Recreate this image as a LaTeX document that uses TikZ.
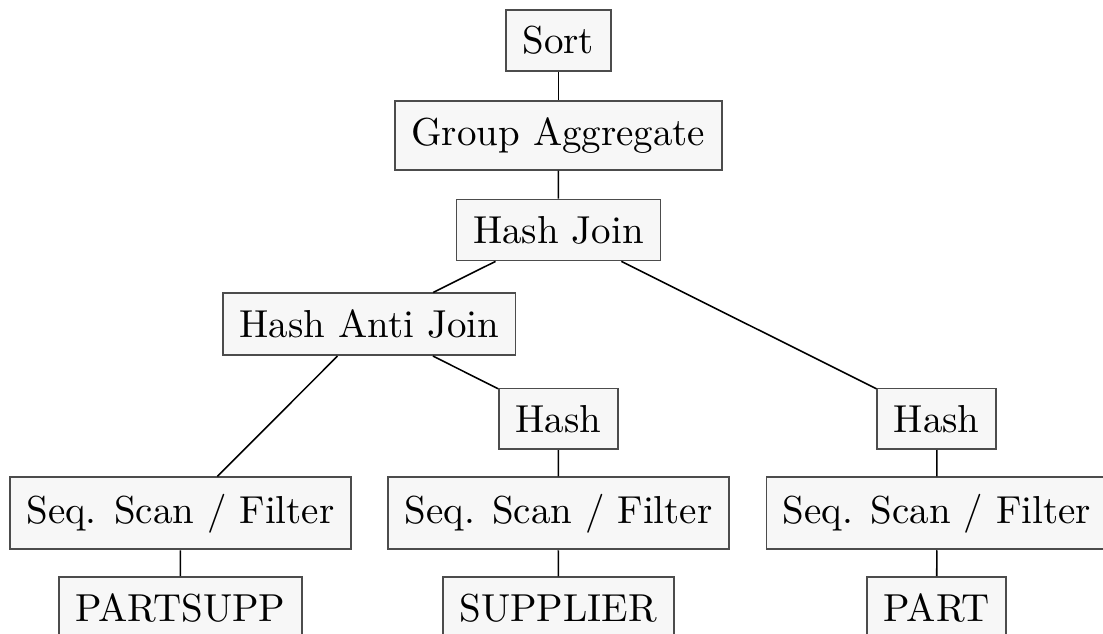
\documentclass[tikz,border=0pt]{standalone}
\usepackage{tikz}
\begin{document}
\begin{tikzpicture}[x=0.2566pt,y=-0.2566pt,
  op/.style={draw=black!70, fill=black!3, line width=0.45pt, inner sep=4.25pt, font=\normalsize},
  link/.style={draw=black, line width=0.4pt}]
  \useasboundingbox (0,0) rectangle (1103,633);
  % operator nodes of the query plan
  \node[op] (sort) at (558.3,40.5) {Sort};
  \node[op] (agg)  at (558.3,135.2) {Group Aggregate};
  \node[op] (hj)   at (558.5,230) {Hash Join};
  \node[op] (haj)  at (369.3,324.2) {Hash Anti Join};
  \node[op] (hmid) at (558.3,418.8) {Hash};
  \node[op] (hrgt) at (936.7,418.8) {Hash};
  \node[op] (sl)   at (180.5,513.3) {Seq. Scan / Filter};
  \node[op] (sm)   at (558.5,513.3) {Seq. Scan / Filter};
  \node[op] (sr)   at (937,513.3) {Seq. Scan / Filter};
  \node[op] (ps)   at (180.4,608) {PARTSUPP};
  \node[op] (sup)  at (558.3,608) {SUPPLIER};
  \node[op] (part) at (936.6,608) {PART};
  % plan edges
  \draw[link] (sort) -- (agg);
  \draw[link] (agg) -- (hj);
  \draw[link] (hj) -- (haj);
  \draw[link] (hj) -- (hrgt);
  \draw[link] (haj) -- (sl);
  \draw[link] (haj) -- (hmid);
  \draw[link] (hmid) -- (sm);
  \draw[link] (hrgt) -- (sr);
  \draw[link] (sl) -- (ps);
  \draw[link] (sm) -- (sup);
  \draw[link] (sr) -- (part);
\end{tikzpicture}
\end{document}
